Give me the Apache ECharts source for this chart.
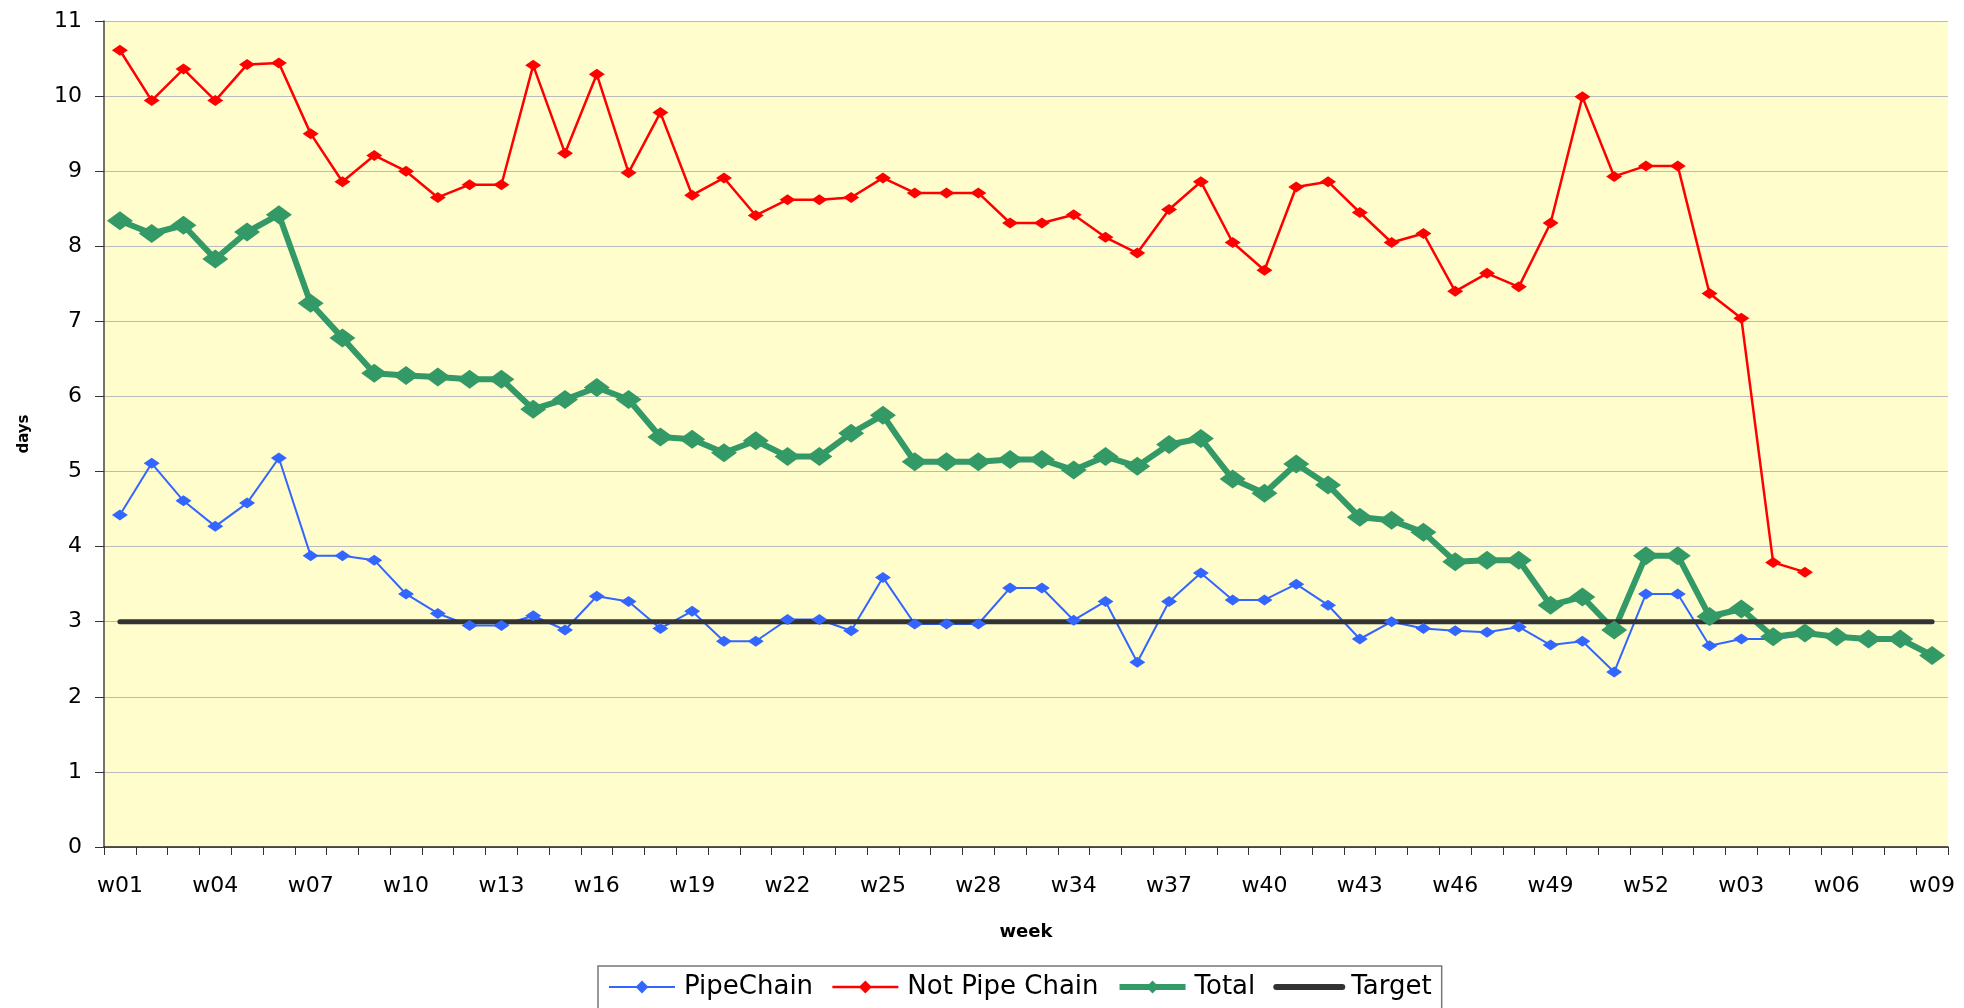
<!DOCTYPE html>
<html>
<head>
<meta charset="utf-8">
<script src="https://cdn.jsdelivr.net/npm/echarts@6/dist/echarts.min.js"></script>
<style>
  html, body { margin: 0; padding: 0; background: #fff; }
  #main { width: 1964px; height: 1008px; }
</style>
</head>
<body>
<div id="main"></div>
<script>
// weeks (w29..w33 partly missing in the source, only w28 -> w34 is labelled)
const weeks = [
  'w01', 'w02', 'w03', 'w04', 'w05', 'w06', 'w07', 'w08', 'w09', 'w10',
  'w11', 'w12', 'w13', 'w14', 'w15', 'w16', 'w17', 'w18', 'w19', 'w20',
  'w21', 'w22', 'w23', 'w24', 'w25', 'w26', 'w27', 'w28', 'w29', 'w33',
  'w34', 'w35', 'w36', 'w37', 'w38', 'w39', 'w40', 'w41', 'w42', 'w43',
  'w44', 'w45', 'w46', 'w47', 'w48', 'w49', 'w50', 'w51', 'w52', 'w01',
  'w02', 'w03', 'w04', 'w05', 'w06', 'w07', 'w08', 'w09'
]

const pipeChain = [
  4.42, 5.11, 4.61, 4.27, 4.58, 5.18, 3.88, 3.88, 3.82, 3.37,
  3.11, 2.95, 2.95, 3.08, 2.89, 3.34, 3.27, 2.91, 3.14, 2.74,
  2.74, 3.03, 3.03, 2.88, 3.59, 2.97, 2.97, 2.97, 3.45, 3.45,
  3.02, 3.27, 2.46, 3.27, 3.65, 3.29, 3.29, 3.50, 3.22, 2.77,
  3.00, 2.91, 2.88, 2.86, 2.93, 2.69, 2.74, 2.33, 3.37, 3.37,
  2.68, 2.77, 2.77, 2.82, null, null, null, null
]

const notPipeChain = [
  10.61, 9.94, 10.36, 9.94, 10.42, 10.44, 9.50, 8.86, 9.21, 9.00,
  8.65, 8.82, 8.82, 10.41, 9.24, 10.29, 8.98, 9.78, 8.68, 8.91,
  8.41, 8.62, 8.62, 8.65, 8.91, 8.71, 8.71, 8.71, 8.31, 8.31,
  8.42, 8.12, 7.91, 8.49, 8.86, 8.05, 7.68, 8.79, 8.86, 8.45,
  8.05, 8.17, 7.40, 7.64, 7.46, 8.31, 9.99, 8.93, 9.07, 9.07,
  7.37, 7.04, 3.79, 3.66, null, null, null, null
]

const total = [
  8.34, 8.17, 8.28, 7.83, 8.19, 8.42, 7.24, 6.78, 6.31, 6.28,
  6.26, 6.23, 6.23, 5.83, 5.96, 6.12, 5.96, 5.46, 5.43, 5.25,
  5.41, 5.20, 5.20, 5.51, 5.75, 5.13, 5.13, 5.13, 5.16, 5.16,
  5.02, 5.20, 5.07, 5.36, 5.44, 4.90, 4.71, 5.10, 4.82, 4.39,
  4.35, 4.19, 3.80, 3.82, 3.82, 3.22, 3.33, 2.89, 3.88, 3.88,
  3.07, 3.17, 2.80, 2.85, 2.80, 2.77, 2.77, 2.55
]

const target = weeks.map(() => 3)

const yTicks = { min: 0, max: 11, interval: 1 }

const myChart = echarts.init(document.getElementById('main'))
const option = {
  animation: false,
  backgroundColor: '#ffffff',
  textStyle: {
    fontFamily: 'DejaVu Sans'
  },
  grid: {
    left: 104,
    right: 16,
    top: 21,
    bottom: 161,
    show: true,
    backgroundColor: '#FFFDCC',
    borderWidth: 0
  },
  legend: {
    bottom: -8,
    left: 598,
    itemWidth: 66,
    itemHeight: 16,
    itemGap: 18,
    padding: [8, 10, 16, 10],
    borderColor: '#777',
    borderWidth: 1.5,
    textStyle: {
      fontSize: 26,
      color: '#000',
      padding: [0, 0, 0, 4]
    },
    data: [
      { name: 'PipeChain', lineStyle: { width: 2 } },
      { name: 'Not Pipe Chain', lineStyle: { width: 2.5 } },
      { name: 'Total', lineStyle: { width: 6 } },
      { name: 'Target', lineStyle: { width: 6, cap: 'round' }, itemStyle: { opacity: 0 } }
    ]
  },
  xAxis: {
    type: 'category',
    boundaryGap: true,
    data: weeks,
    name: 'week',
    nameLocation: 'middle',
    nameGap: 76,
    nameTextStyle: {
      fontSize: 18,
      fontWeight: 'bold',
      color: '#000'
    },
    axisLine: {
      lineStyle: { color: '#222', width: 1.5 }
    },
    axisTick: {
      show: true,
      interval: 0,
      length: 8,
      lineStyle: { color: '#333' }
    },
    axisLabel: {
      interval: 2,
      margin: 28,
      fontSize: 22,
      color: '#000'
    }
  },
  yAxis: {
    type: 'value',
    min: yTicks.min,
    max: yTicks.max,
    interval: yTicks.interval,
    name: 'days',
    nameLocation: 'middle',
    nameGap: 72,
    nameTextStyle: {
      fontSize: 15,
      fontWeight: 'bold',
      color: '#000'
    },
    axisLine: {
      show: true,
      lineStyle: { color: '#444', width: 1.5 }
    },
    axisTick: {
      show: true,
      length: 9,
      lineStyle: { color: '#333' }
    },
    axisLabel: {
      margin: 22,
      fontSize: 22,
      color: '#000'
    },
    splitLine: {
      lineStyle: { color: '#BBBBBB', width: 1.2 }
    }
  },
  series: [
    {
      name: 'PipeChain',
      type: 'line',
      data: pipeChain,
      symbol: 'diamond',
      symbolSize: [16, 11],
      color: '#3366FF',
      lineStyle: { width: 2 }
    },
    {
      name: 'Not Pipe Chain',
      type: 'line',
      data: notPipeChain,
      symbol: 'diamond',
      symbolSize: [16, 11],
      color: '#FF0000',
      lineStyle: { width: 2.5 }
    },
    {
      name: 'Total',
      type: 'line',
      data: total,
      symbol: 'diamond',
      symbolSize: [26, 19],
      color: '#339966',
      lineStyle: { width: 6 }
    },
    {
      name: 'Target',
      type: 'line',
      data: target,
      symbol: 'none',
      color: '#333333',
      lineStyle: { width: 5, cap: 'round' }
    }
  ]
}
myChart.setOption(option)
</script>
</body>
</html>
